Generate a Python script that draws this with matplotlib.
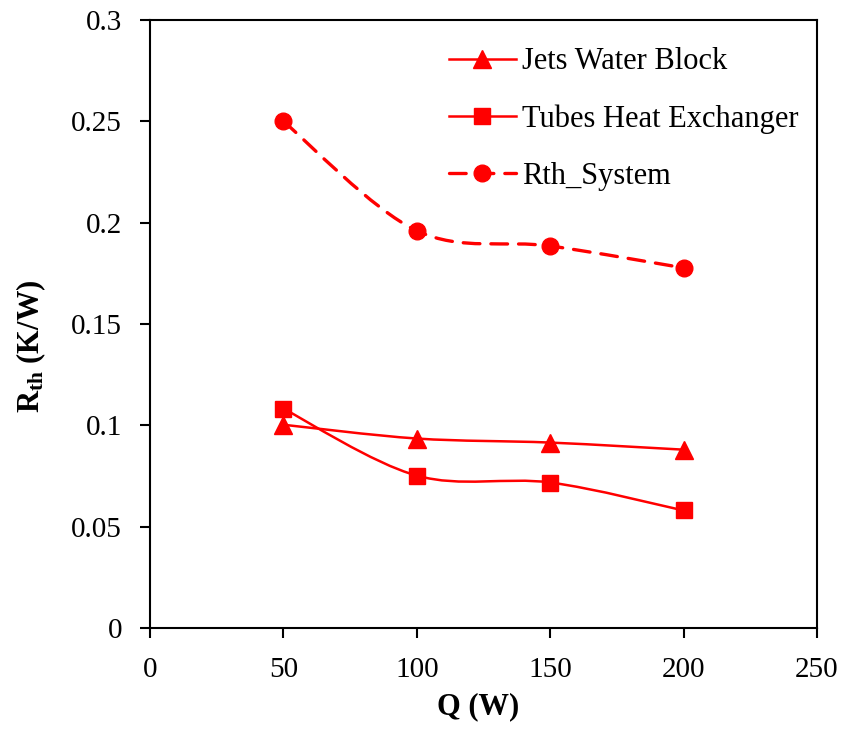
import matplotlib
matplotlib.use("Agg")
import matplotlib.pyplot as plt
from matplotlib.path import Path
from matplotlib.patches import PathPatch
from matplotlib.lines import Line2D

plt.rcParams['font.family'] = ['Liberation Serif', 'DejaVu Serif']
plt.rcParams['mathtext.fontset'] = 'custom'
plt.rcParams['mathtext.rm'] = 'Liberation Serif'
plt.rcParams['mathtext.bf'] = 'Liberation Serif:bold'

q = [50, 100, 150, 200]
jets = [0.1003, 0.0935, 0.0915, 0.0880]
tubes = [0.1082, 0.0752, 0.0718, 0.0580]
system = [0.2500, 0.1960, 0.1885, 0.1777]

red = '#ff0000'


def smooth_path(x, y):
    # Excel-like smoothed line: cubic bezier segments through the points
    pts = list(zip(x, y))
    n = len(pts)
    verts = [pts[0]]
    codes = [Path.MOVETO]
    for i in range(n - 1):
        p0 = pts[i - 1] if i > 0 else pts[i]
        p1 = pts[i]
        p2 = pts[i + 1]
        p3 = pts[i + 2] if i + 2 < n else pts[i + 1]
        c1 = (p1[0] + (p2[0] - p0[0]) / 6, p1[1] + (p2[1] - p0[1]) / 6)
        c2 = (p2[0] - (p3[0] - p1[0]) / 6, p2[1] - (p3[1] - p1[1]) / 6)
        verts += [c1, c2, p2]
        codes += [Path.CURVE4] * 3
    return Path(verts, codes)


fig = plt.figure(figsize=(8.44, 7.29), dpi=100)
ax = fig.add_axes([0.1777, 0.1385, 0.7903, 0.8341])

series = [
    (jets, '^', '-', 'Jets Water Block', 13),
    (tubes, 's', '-', 'Tubes Heat Exchanger', 12),
    (system, 'o', (0, (5, 3.3)), 'Rth_System', 12),
]
handles = []
for vals, mk, ls, lab, ms in series:
    lw = 1.8 if ls == '-' else 2.4
    patch = PathPatch(smooth_path(q, vals), facecolor='none', edgecolor=red,
                      lw=lw, linestyle=ls, capstyle='round')
    ax.add_patch(patch)
    ax.plot(q, vals, linestyle='none', marker=mk, ms=ms, color=red, zorder=3)
    handles.append(Line2D([], [], color=red, marker=mk, ms=ms, lw=lw,
                          linestyle=ls, dash_capstyle='round', label=lab))

ax.set_xlim(0, 250)
ax.set_ylim(0, 0.3)
ax.set_xticks([0, 50, 100, 150, 200, 250])
ax.set_yticks([0, 0.05, 0.1, 0.15, 0.2, 0.25, 0.3])
ax.set_yticklabels(['0', '0.05', '0.1', '0.15', '0.2', '0.25', '0.3'])
ax.tick_params(direction='out', length=7, width=1.5, labelsize=21)
ax.tick_params(axis='y', pad=13)
ax.tick_params(axis='x', pad=14)
for s in ax.spines.values():
    s.set_linewidth(1.5)

ax.set_xlabel('Q (W)', fontsize=22, fontweight='bold')
ax.xaxis.set_label_coords(0.492, -0.105)
ax.set_ylabel(r'$\mathbf{R_{th}}$ (K/W)', fontsize=22, fontweight='bold')
ax.yaxis.set_label_coords(-0.153, 0.464)

ax.legend(handles=handles, loc='upper right', bbox_to_anchor=(1.0, 0.985),
          frameon=False, fontsize=22, handlelength=2.2, handletextpad=0.2,
          labelspacing=0.92, borderaxespad=0.2)

fig.savefig('out.png', dpi=100)
